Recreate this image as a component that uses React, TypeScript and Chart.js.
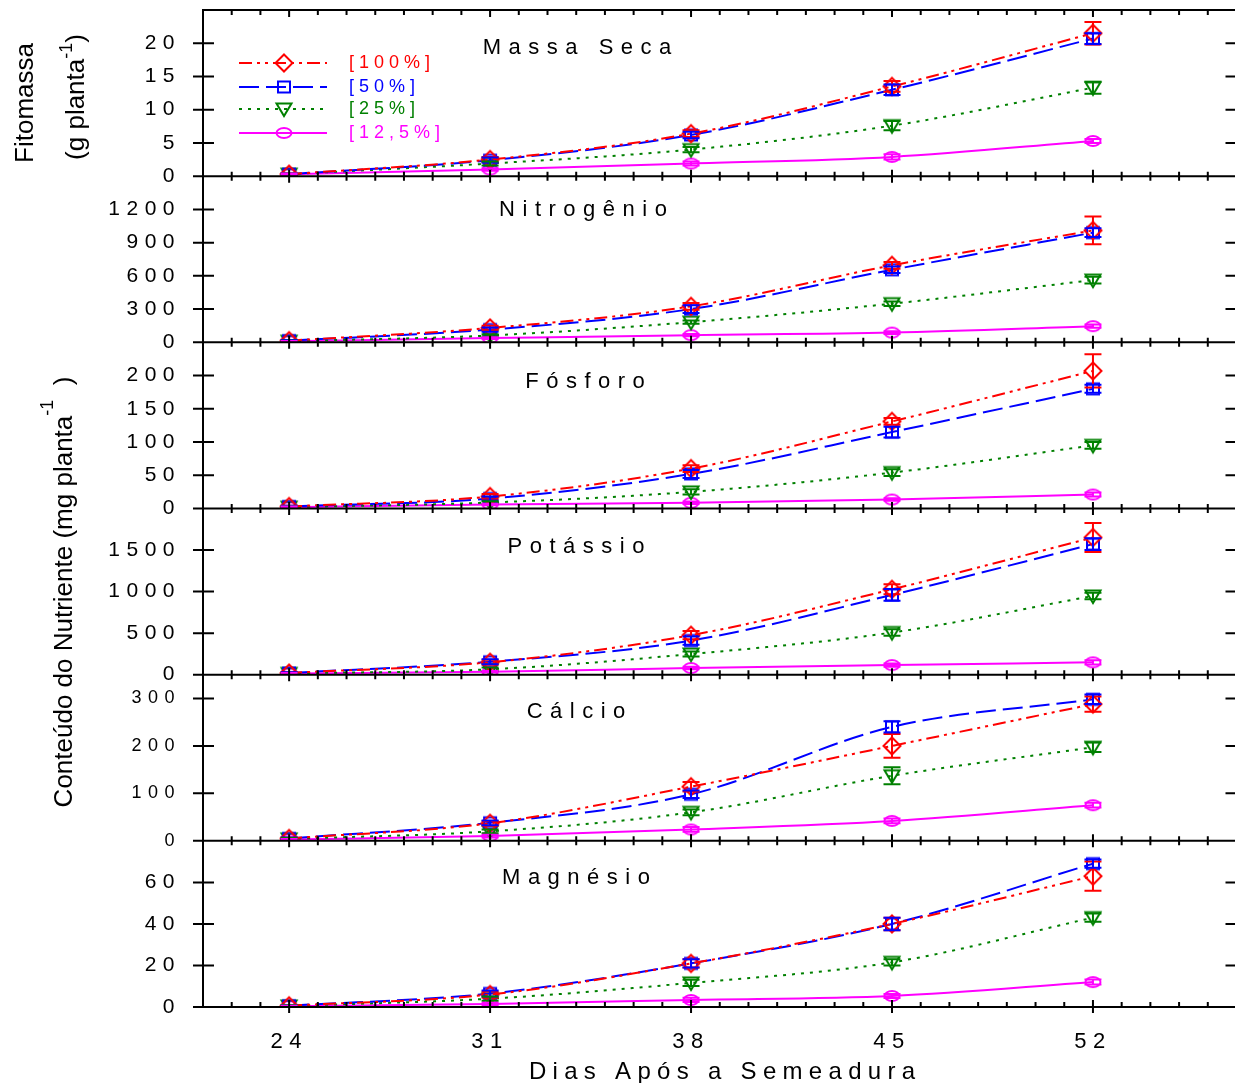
import React, { useEffect, useRef } from 'react';
import { Chart, registerables } from 'chart.js';

Chart.register(...registerables);

// ---------- data ----------
const days = [24, 31, 38, 45, 52];
const xTickLabels = [24, 31, 38, 45, 52];
const seriesLabels = ['[100%]', '[50%]', '[25%]', '[12,5%]'];
const panelTitles = ['Massa Seca', 'Nitrogênio', 'Fósforo', 'Potássio', 'Cálcio', 'Magnésio'];
const panelMax = [25, 1500, 250, 2000, 350, 80];
const panelStep = [5, 300, 50, 500, 100, 20];

// Massa seca (g planta-1)
const massaSeca100 = [0.3, 2.5, 6.4, 13.5, 21.5];
const massaSeca50 = [0.3, 2.4, 6.2, 13.0, 20.7];
const massaSeca25 = [0.3, 1.9, 4.0, 7.6, 13.3];
const massaSeca125 = [0.3, 1.0, 1.9, 2.9, 5.3];
const massaSecaErr100 = [0.1, 0.4, 0.5, 0.8, 1.7];
const massaSecaErr50 = [0.1, 0.4, 0.5, 0.8, 0.8];
const massaSecaErr25 = [0.1, 0.3, 0.4, 0.7, 0.9];
const massaSecaErr125 = [0.1, 0.2, 0.3, 0.4, 0.3];

// Nitrogênio (mg planta-1)
const nitrogenio100 = [15, 130, 325, 695, 1010];
const nitrogenio50 = [15, 115, 300, 655, 990];
const nitrogenio25 = [10, 62, 182, 349, 562];
const nitrogenio125 = [10, 38, 65, 88, 146];
const nitrogenioErr100 = [5, 20, 30, 30, 125];
const nitrogenioErr50 = [5, 20, 35, 30, 40];
const nitrogenioErr25 = [4, 10, 15, 20, 30];
const nitrogenioErr125 = [3, 8, 10, 12, 15];

// Fósforo
const fosforo100 = [3, 18, 60, 131, 207];
const fosforo50 = [3, 15, 52, 115, 180];
const fosforo25 = [2, 9, 25, 54, 95];
const fosforo125 = [2, 6, 8.6, 13.5, 21];
const fosforoErr100 = [1, 4, 5, 5, 25];
const fosforoErr50 = [1, 3, 6, 8, 6];
const fosforoErr25 = [1, 2, 4, 5, 5];
const fosforoErr125 = [1, 1, 2, 2, 3];

// Potássio
const potassio100 = [20, 150, 475, 1027, 1651];
const potassio50 = [20, 155, 410, 960, 1571];
const potassio25 = [15, 65, 248, 507, 947];
const potassio125 = [15, 35, 80, 115, 148];
const potassioErr100 = [10, 30, 50, 60, 175];
const potassioErr50 = [10, 30, 50, 70, 70];
const potassioErr25 = [5, 20, 30, 40, 40];
const potassioErr125 = [5, 10, 15, 20, 25];

// Cálcio
const calcio100 = [5, 37, 114, 200, 288];
const calcio50 = [5, 38, 98, 240, 298];
const calcio25 = [4, 20, 60, 137, 197];
const calcio125 = [3, 10, 24, 42, 75];
const calcioErr100 = [2, 5, 10, 25, 16];
const calcioErr50 = [2, 5, 8, 12, 10];
const calcioErr25 = [2, 4, 6, 18, 10];
const calcioErr125 = [1, 3, 5, 5, 5];

// Magnésio
const magnesio100 = [0.6, 6, 21, 40, 63];
const magnesio50 = [0.6, 6.5, 21, 40, 69];
const magnesio25 = [0.5, 4, 11.6, 21.5, 43];
const magnesio125 = [0.4, 1.5, 3.4, 5.3, 12];
const magnesioErr100 = [0.3, 1.5, 2, 3, 7];
const magnesioErr50 = [0.3, 1.5, 2, 3, 2];
const magnesioErr25 = [0.3, 1, 1.5, 1.5, 2];
const magnesioErr125 = [0.2, 0.5, 1, 1, 1.2];

const panelValues = [
  [massaSeca100, massaSeca50, massaSeca25, massaSeca125],
  [nitrogenio100, nitrogenio50, nitrogenio25, nitrogenio125],
  [fosforo100, fosforo50, fosforo25, fosforo125],
  [potassio100, potassio50, potassio25, potassio125],
  [calcio100, calcio50, calcio25, calcio125],
  [magnesio100, magnesio50, magnesio25, magnesio125],
];
const panelErrors = [
  [massaSecaErr100, massaSecaErr50, massaSecaErr25, massaSecaErr125],
  [nitrogenioErr100, nitrogenioErr50, nitrogenioErr25, nitrogenioErr125],
  [fosforoErr100, fosforoErr50, fosforoErr25, fosforoErr125],
  [potassioErr100, potassioErr50, potassioErr25, potassioErr125],
  [calcioErr100, calcioErr50, calcioErr25, calcioErr125],
  [magnesioErr100, magnesioErr50, magnesioErr25, magnesioErr125],
];

// ---------- styles / layout ----------
const seriesColors = ['#ff0000', '#0000ff', '#008000', '#ff00ff'];
const seriesDash = [[13, 5, 3, 5, 3, 5], [20, 7], [3, 6], []];
const markerKinds = ['diamond', 'square', 'triangle', 'ellipse'];
const FONT = '"Liberation Sans", Arial, Helvetica, sans-serif';
const W = 1250;
const H = 1083;
const VIEW_W = 1235;
const PLOT_LEFT = 203;
const PLOT_TOP = 10;
const PLOT_BOTTOM = 1007;
const PLOT_RIGHT = 1236.5;
const titleCenterX = [577, 583, 585, 576, 576, 576];
const titleOffsetY = [38, 34, 40, 38, 37, 37];
const legendRowY = [63, 87, 109, 133];

function makeMarker(kind: string, color: string): HTMLCanvasElement {
  const c = document.createElement('canvas');
  c.width = 22;
  c.height = 22;
  const g = c.getContext('2d') as CanvasRenderingContext2D;
  g.strokeStyle = color;
  g.lineWidth = 2;
  g.translate(11, 11);
  g.beginPath();
  if (kind === 'diamond') {
    g.moveTo(0, -8.5);
    g.lineTo(8.5, 0);
    g.lineTo(0, 8.5);
    g.lineTo(-8.5, 0);
    g.closePath();
  } else if (kind === 'square') {
    g.rect(-6, -5.5, 12, 11);
  } else if (kind === 'triangle') {
    g.moveTo(-7.5, -5.5);
    g.lineTo(7.5, -5.5);
    g.lineTo(0, 7);
    g.closePath();
  } else {
    g.ellipse(0, 0, 7.5, 5, 0, 0, Math.PI * 2);
  }
  g.stroke();
  return c;
}

function spacedText(
  ctx: CanvasRenderingContext2D,
  text: string,
  x: number,
  y: number,
  size: number,
  spacing: number,
  align: CanvasTextAlign,
  color: string,
  baseline: CanvasTextBaseline = 'middle'
) {
  ctx.save();
  (ctx as any).letterSpacing = spacing + 'px';
  ctx.font = `${size}px ${FONT}`;
  ctx.fillStyle = color;
  ctx.textAlign = align;
  ctx.textBaseline = baseline;
  let dx = 0;
  if (align === 'center') dx = spacing / 2;
  if (align === 'right') dx = spacing;
  ctx.fillText(text, x + dx, y);
  ctx.restore();
}

function rotatedLabel(
  ctx: CanvasRenderingContext2D,
  main: string,
  sup: string,
  tail: string,
  baseX: number,
  centerY: number,
  size: number,
  supSize: number,
  raise: number
) {
  ctx.save();
  ctx.translate(baseX, centerY);
  ctx.rotate(-Math.PI / 2);
  ctx.fillStyle = '#000';
  ctx.textBaseline = 'alphabetic';
  ctx.textAlign = 'left';
  (ctx as any).letterSpacing = '0px';
  ctx.font = `${size}px ${FONT}`;
  const w1 = ctx.measureText(main).width;
  const w3 = tail ? ctx.measureText(tail).width : 0;
  ctx.font = `${supSize}px ${FONT}`;
  const w2 = sup ? ctx.measureText(sup).width : 0;
  const total = w1 + w2 + w3;
  let u = -total / 2;
  ctx.font = `${size}px ${FONT}`;
  ctx.fillText(main, u, 0);
  u += w1;
  if (sup) {
    ctx.font = `${supSize}px ${FONT}`;
    ctx.fillText(sup, u, -raise);
    u += w2;
  }
  if (tail) {
    ctx.font = `${size}px ${FONT}`;
    ctx.fillText(tail, u, 0);
  }
  ctx.restore();
}

export default function App() {
  const canvasRef = useRef<HTMLCanvasElement | null>(null);

  useEffect(() => {
    const canvas = canvasRef.current;
    if (!canvas) return;
    const markers = markerKinds.map((k, i) => makeMarker(k, seriesColors[i]));
    const yIds = panelTitles.map((_, p) => 'y' + p);

    const datasets: any[] = [];
    const errLookup: number[][] = [];
    panelValues.forEach((series, p) => {
      series.forEach((vals, s) => {
        datasets.push({
          label: `${panelTitles[p]} ${seriesLabels[s]}`,
          data: days.map((d, i) => ({ x: d, y: vals[i] })),
          xAxisID: 'x',
          yAxisID: yIds[p],
          borderColor: seriesColors[s],
          backgroundColor: seriesColors[s],
          borderWidth: 2,
          borderDash: seriesDash[s],
          borderCapStyle: 'butt',
          cubicInterpolationMode: 'monotone',
          fill: false,
          pointStyle: markers[s],
          pointRadius: 8,
          pointHoverRadius: 8,
        });
        errLookup.push(panelErrors[p][s]);
      });
    });

    const scales: any = {
      x: {
        type: 'linear',
        position: 'bottom',
        min: 21,
        max: 57,
        grid: { display: false, drawTicks: false },
        border: { display: false },
        ticks: {
          stepSize: 1,
          autoSkip: false,
          maxRotation: 0,
          minRotation: 0,
          padding: 22,
          color: '#000',
          font: { family: FONT, size: 22 },
          callback: (v: any) => {
            const n = Math.round(Number(v));
            return xTickLabels.includes(n) ? String(n) : '';
          },
        },
        afterFit: (s: any) => {
          s.height = H - PLOT_BOTTOM;
          s.paddingLeft = 0;
          s.paddingRight = 0;
        },
      },
    };
    yIds.forEach((id, p) => {
      scales[id] = {
        type: 'linear',
        position: 'left',
        stack: 'panels',
        stackWeight: 1,
        weight: 10 - p,
        min: 0,
        max: panelMax[p],
        grid: { display: false, drawTicks: false },
        border: { display: false },
        ticks: {
          stepSize: panelStep[p],
          autoSkip: false,
          padding: 22,
          color: '#000',
          font: { family: FONT, size: p === 4 ? 18 : 21 },
          callback: (v: any) => String(Math.round(Number(v) * 1000) / 1000),
        },
        afterBuildTicks: (s: any) => {
          const t: any[] = [];
          for (let v = 0; v < panelMax[p] - 1e-9; v += panelStep[p]) t.push({ value: v });
          s.ticks = t;
        },
        afterFit: (s: any) => {
          s.width = PLOT_LEFT;
          s.paddingTop = 0;
          s.paddingBottom = 0;
        },
      };
    });

    const decor = {
      id: 'decor',
      beforeDraw(chart: any) {
        chart.ctx.letterSpacing = '6.5px';
      },
      afterDatasetsDraw(chart: any) {
        const ctx: CanvasRenderingContext2D = chart.ctx;
        ctx.save();
        chart.data.datasets.forEach((ds: any, i: number) => {
          const meta = chart.getDatasetMeta(i);
          const ys = chart.scales[meta.yAxisID];
          const errs = errLookup[i];
          ctx.strokeStyle = ds.borderColor;
          ctx.lineWidth = 2;
          ctx.setLineDash([]);
          meta.data.forEach((pt: any, j: number) => {
            const v = ds.data[j].y;
            const e = errs[j];
            const yt = ys.getPixelForValue(v + e);
            const yb = ys.getPixelForValue(v - e);
            const x = pt.x;
            ctx.beginPath();
            ctx.moveTo(x, yt);
            ctx.lineTo(x, yb);
            ctx.moveTo(x - 8.5, yt);
            ctx.lineTo(x + 8.5, yt);
            ctx.moveTo(x - 8.5, yb);
            ctx.lineTo(x + 8.5, yb);
            ctx.stroke();
          });
        });
        ctx.restore();
      },
      afterDraw(chart: any) {
        const ctx: CanvasRenderingContext2D = chart.ctx;
        (ctx as any).letterSpacing = '0px';
        const ca = chart.chartArea;
        const ysList = yIds.map((id) => chart.scales[id]);
        const xs = chart.scales.x;
        ctx.save();
        ctx.strokeStyle = '#000';
        ctx.lineWidth = 2;
        ctx.setLineDash([]);
        // frame and panel separators
        ctx.strokeRect(ca.left, ca.top, ca.right - ca.left, ca.bottom - ca.top);
        ctx.beginPath();
        ysList.forEach((s: any, p: number) => {
          if (p < ysList.length - 1) {
            ctx.moveTo(ca.left, s.bottom);
            ctx.lineTo(ca.right, s.bottom);
          }
        });
        // y ticks
        ysList.forEach((s: any) => {
          s.ticks.forEach((t: any) => {
            const py = s.getPixelForValue(t.value);
            ctx.moveTo(ca.left - 10, py);
            ctx.lineTo(ca.left + 11, py);
            ctx.moveTo(ca.right - 11, py);
            ctx.lineTo(ca.right + 10, py);
          });
        });
        // x ticks on each horizontal boundary
        const bounds = [ca.top, ...ysList.map((s: any) => s.bottom)];
        xs.ticks.forEach((t: any) => {
          const v = Math.round(t.value);
          if (v <= 21 || v >= 57) return;
          const major = (v - 24) % 7 === 0;
          const px = xs.getPixelForValue(v);
          bounds.forEach((b: number, k: number) => {
            let up: number;
            let down: number;
            if (k === 0) {
              up = 0;
              down = major ? 7 : 5;
            } else if (k === bounds.length - 1) {
              up = major ? 7 : 5;
              down = major ? 6 : 0;
            } else {
              up = major ? 6.5 : 4.5;
              down = major ? 6.5 : 4.5;
            }
            ctx.moveTo(px, b - up);
            ctx.lineTo(px, b + down);
          });
        });
        ctx.stroke();
        ctx.restore();

        // panel titles
        ysList.forEach((s: any, p: number) => {
          spacedText(ctx, panelTitles[p], titleCenterX[p], s.top + titleOffsetY[p], 22, 7.5, 'center', '#000');
        });

        // legend
        seriesLabels.forEach((lab, s) => {
          const y = legendRowY[s];
          ctx.save();
          ctx.strokeStyle = seriesColors[s];
          ctx.lineWidth = 2;
          ctx.setLineDash(seriesDash[s]);
          ctx.beginPath();
          ctx.moveTo(239, y);
          ctx.lineTo(327, y);
          ctx.stroke();
          ctx.restore();
          const m = markers[s];
          ctx.drawImage(m, 284 - m.width / 2, y - m.height / 2);
          spacedText(ctx, lab, 349, y, 18, 5, 'left', seriesColors[s]);
        });

        // axis titles
        spacedText(ctx, 'Dias Após a Semeadura', 722, 1079, 24, 6.3, 'center', '#000', 'alphabetic');
        rotatedLabel(ctx, 'Fitomassa', '', '', 33, 103, 26, 16, 0);
        rotatedLabel(ctx, '(g planta', '-1', ')', 84, 97, 26, 18, 12);
        rotatedLabel(ctx, 'Conteúdo do Nutriente (mg planta', '-1', '  )', 72, 592, 26, 18, 19);
      },
    };

    const chart = new Chart(canvas, {
      type: 'line',
      data: { datasets },
      options: {
        responsive: false,
        maintainAspectRatio: false,
        animation: false,
        events: [],
        layout: { padding: { left: 0, top: PLOT_TOP, right: W - PLOT_RIGHT, bottom: 0 } },
        plugins: {
          legend: { display: false },
          title: { display: false },
          tooltip: { enabled: false },
        },
        scales,
      },
      plugins: [decor],
    } as any);

    return () => {
      chart.destroy();
    };
  }, []);

  return (
    <div
      style={{
        position: 'absolute',
        left: 0,
        top: 0,
        width: VIEW_W,
        height: H,
        overflow: 'hidden',
        background: '#fff',
      }}
    >
      <canvas ref={canvasRef} width={W} height={H} style={{ width: W, height: H, display: 'block' }} />
    </div>
  );
}
